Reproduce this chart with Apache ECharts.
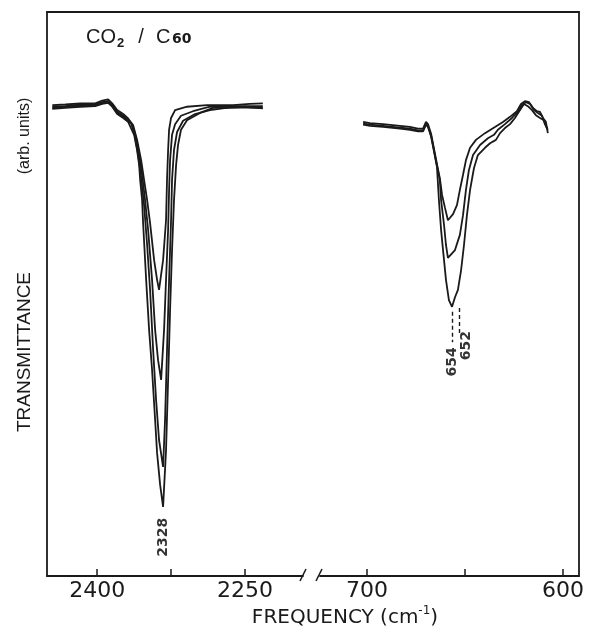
<!DOCTYPE html>
<html><head><meta charset="utf-8">
<script src="https://cdn.jsdelivr.net/npm/echarts@6/dist/echarts.min.js"></script>
<style>html,body{margin:0;padding:0;background:#fff}#c{width:591px;height:636px}</style>
</head><body><div id="c"></div>
<script>
// ---- tick values / labels (cm^-1) ----
const leftTicks = [2400, 2325, 2250];
const leftTickLabels = [2400, 2250];
const rightTicks = [700, 650, 600];
const rightTickLabels = [700, 600];

// ---- CO2 asymmetric stretch region: [frequency, transmittance (arb.)] ----
const leftA = [[2445.6,83.8],[2432.4,83.9],[2417.2,84.1],[2402.0,84.1],[2394.9,84.6],[2388.9,84.8],[2384.8,84.1],[2379.7,82.9],[2373.6,82.2],[2368.6,81.4],
  [2363.5,80.2],[2359.5,77.6],[2355.4,74.0],[2352.4,70.5],[2349.3,66.9],[2346.3,62.8],[2342.2,56.2],[2339.2,52.7],[2337.2,50.9],
  [2333.1,56.2],[2330.1,63.3],[2329.1,70.5],[2328.0,75.8],[2327.0,79.4],[2325.0,81.5],[2320.9,82.9],[2308.8,83.5],[2288.5,83.8],[2262.2,83.8],[2244.9,84.0],[2231.8,84.1]];
const leftB = [[2445.6,83.5],[2432.4,83.6],[2417.2,83.9],[2402.0,83.9],[2394.9,84.3],[2388.9,84.5],[2384.8,83.8],[2379.7,82.6],[2373.6,81.9],[2368.6,81.0],
  [2364.5,80.4],[2360.5,77.9],[2357.4,74.9],[2354.4,71.4],[2351.4,66.9],[2348.3,61.6],[2344.3,52.7],[2341.2,43.8],[2338.2,38.4],[2335.1,34.9],
  [2332.1,43.8],[2330.1,52.7],[2328.0,61.6],[2327.0,68.7],[2326.0,74.0],[2324.0,78.5],[2320.9,80.4],[2314.9,81.9],[2302.7,82.7],[2285.5,83.5],[2265.2,83.6],[2231.8,83.6]];
const leftC = [[2445.6,83.3],[2432.4,83.5],[2417.2,83.7],[2402.0,83.8],[2394.9,84.2],[2388.9,84.4],[2384.8,83.7],[2379.7,82.4],[2373.6,81.7],[2368.6,80.9],
  [2365.5,80.6],[2361.5,78.1],[2358.4,74.9],[2355.4,70.9],[2352.4,66.0],[2349.3,58.9],[2346.3,50.9],[2343.2,40.2],[2340.2,31.3],[2337.2,24.2],[2333.1,19.4],
  [2331.1,27.8],[2329.1,40.2],[2327.0,52.7],[2325.0,63.3],[2324.0,70.5],[2322.0,75.8],[2318.9,79.0],[2312.8,81.0],[2300.7,82.2],[2285.5,82.9],[2265.2,83.4],[2231.8,83.3]];
const leftD = [[2445.6,83.1],[2432.4,83.3],[2417.2,83.5],[2402.0,83.6],[2394.9,84.0],[2388.9,84.2],[2384.8,83.5],[2379.7,82.2],[2373.6,81.5],[2368.6,80.8],
  [2366.6,80.6],[2362.5,78.5],[2359.5,75.8],[2357.4,73.1],[2356.4,70.5],[2354.4,66.9],[2353.4,62.8],[2350.3,52.7],[2347.3,43.8],[2344.3,36.7],[2341.2,27.8],[2339.2,21.9],[2336.1,16.2],[2333.1,12.3],
  [2330.1,22.4],[2328.0,34.9],[2326.0,47.3],[2324.0,58.0],[2322.0,66.9],[2319.9,73.1],[2317.9,76.7],[2314.9,79.4],[2308.8,81.1],[2295.6,82.4],[2282.4,83.3],[2268.2,83.3],[2250.0,83.5],[2231.8,83.2]];

// ---- CO2 bending region ----
const rightA = [[702.0,80.8],[698.5,80.6],[691.8,80.4],[683.2,80.1],[678.1,79.9],[674.0,79.6],[671.4,79.6],[669.9,80.8],[668.9,80.4],[667.3,78.7],[665.8,76.0],[664.3,73.3],[662.8,70.7],
  [661.7,67.8],[660.2,65.5],[658.7,63.3],[656.1,64.4],[654.1,66.0],[652.6,68.7],[651.0,71.4],[649.5,74.0],[647.4,76.2],[644.4,77.6],[639.8,78.8],[634.7,79.9],[630.6,80.8],[627.0,81.7],[623.5,82.7],[621.4,84.0],[619.4,84.5],[617.3,84.3],[615.3,83.3],[613.3,82.7],[611.7,82.6],[610.2,81.5],[608.7,80.8],[607.7,78.8]];
const rightB = [[702.0,80.5],[698.5,80.3],[691.8,80.1],[683.2,79.8],[678.1,79.6],[674.0,79.3],[671.4,79.3],[669.9,80.5],[668.9,80.1],[667.3,78.4],[665.8,75.7],[664.3,73.0],[662.8,70.4],
  [662.2,66.9],[660.7,62.5],[659.7,58.9],[658.7,56.6],[655.1,58.0],[652.6,60.7],[651.0,64.2],[649.5,68.7],[648.0,72.2],[645.9,74.9],[642.3,76.7],[638.3,77.9],[635.2,78.5],[633.2,79.4],[629.6,80.4],[626.0,81.5],[623.0,82.6],[620.9,83.8],[618.9,84.3],[616.8,84.0],[614.8,82.9],[612.8,82.4],[610.7,81.9],[609.2,80.4],[607.7,79.4]];
const rightC = [[702.0,80.3],[698.5,80.1],[691.8,79.9],[683.2,79.6],[678.1,79.4],[674.0,79.1],[671.4,79.1],[669.9,80.3],[668.9,79.9],[667.3,78.2],[665.8,75.5],[664.3,72.8],
  [663.3,66.9],[662.2,61.6],[661.2,58.0],[659.7,52.7],[658.2,49.1],[656.6,47.9],[655.1,49.6],[653.6,50.9],[652.0,54.4],[650.5,58.9],[649.0,64.2],[647.4,68.7],[645.4,72.6],[643.4,74.9],[639.8,76.2],[637.2,77.0],[634.2,77.6],[632.1,78.8],[629.6,79.7],[627.0,80.4],[624.5,81.5],[621.9,82.9],[619.9,84.0],[617.9,83.6],[615.8,82.9],[613.8,82.0],[611.7,81.5],[609.7,81.1],[608.2,79.7]];

// ---- peak annotations ----
const leftPeakLabels = [{ name: '2328', value: [2333.1, 6.9] }];
const rightPeakLabels = [{ name: '654', value: [656.6, 38.1] }, { name: '652', value: [649.5, 41.0] }];
const rightPeakMarks = [[656.6, 47.0, 41.6], [653.1, 47.7, 43.2]];

const INK = '#1a1a1a';
const chart = echarts.init(document.getElementById('c'));

function curve(data, idx) {
  return { type: 'line', xAxisIndex: idx, yAxisIndex: idx, data: data, symbol: 'none', showSymbol: false,
    lineStyle: { color: INK, width: 1.8 }, silent: true, z: 3 };
}
function labels(data, idx) {
  return { type: 'scatter', xAxisIndex: idx, yAxisIndex: idx, data: data, symbolSize: 0, silent: true,
    itemStyle: { color: INK },
    label: { show: true, position: 'inside', rotate: 90, formatter: p => p.name, color: '#000',
      fontFamily: 'DejaVu Sans', fontWeight: 'bold', fontSize: 14 } };
}
const axLine = { show: true, onZero: false, lineStyle: { color: INK, width: 1.8 } };
const xLab = { color: INK, fontFamily: 'DejaVu Sans', fontSize: 22, margin: 4, formatter: v => String(v) };

const rc = curve(rightC, 1);
rc.markLine = { symbol: 'none', silent: true, label: { show: false },
  lineStyle: { color: INK, width: 1.4, type: [4, 3] },
  data: rightPeakMarks.map(m => [{ coord: [m[0], m[1]] }, { coord: [m[0], m[2]] }]) };

const option = {
  backgroundColor: '#ffffff',
  animation: false,
  grid: [
    { left: 47, width: 256, top: 14, bottom: 60 },
    { left: 320, right: 12, top: 14, bottom: 60 },
    { left: 47, right: 12, top: 12, bottom: 60 }
  ],
  xAxis: [
    { gridIndex: 0, type: 'value', inverse: true, min: 2191, max: 2451, axisLine: axLine,
      axisTick: { show: true, inside: true, length: 7, customValues: leftTicks, lineStyle: { color: INK, width: 1.5 } },
      axisLabel: Object.assign({ customValues: leftTickLabels }, xLab), splitLine: { show: false } },
    { gridIndex: 1, type: 'value', inverse: true, min: 591.8, max: 724, axisLine: axLine,
      axisTick: { show: true, inside: true, length: 7, customValues: rightTicks, lineStyle: { color: INK, width: 1.5 } },
      axisLabel: Object.assign({ customValues: rightTickLabels }, xLab), splitLine: { show: false } },
    { gridIndex: 2, type: 'value', min: 0, max: 1, position: 'top', axisLine: axLine,
      axisTick: { show: false }, axisLabel: { show: false }, splitLine: { show: false } }
  ],
  yAxis: [
    { gridIndex: 0, type: 'value', min: 0, max: 100, show: false },
    { gridIndex: 1, type: 'value', min: 0, max: 100, show: false },
    { gridIndex: 2, type: 'value', min: 0, max: 1, position: 'left', axisLine: axLine,
      axisTick: { show: false }, axisLabel: { show: false }, splitLine: { show: false } },
    { gridIndex: 2, type: 'value', min: 0, max: 1, position: 'right', axisLine: axLine,
      axisTick: { show: false }, axisLabel: { show: false }, splitLine: { show: false } }
  ],
  series: [
    curve(leftA, 0), curve(leftB, 0), curve(leftC, 0), curve(leftD, 0),
    curve(rightA, 1), curve(rightB, 1), rc,
    labels(leftPeakLabels, 0), labels(rightPeakLabels, 1)
  ],
  graphic: [
    { type: 'text', x: 25, y: 136, rotation: Math.PI / 2,
      style: { text: '(arb. units)', font: '16px "Liberation Sans"', fill: INK, textAlign: 'center', textVerticalAlign: 'middle', align: 'center', verticalAlign: 'middle' } },
    { type: 'text', x: 25, y: 352, rotation: Math.PI / 2,
      style: { text: 'TRANSMITTANCE', font: '19px "Liberation Sans"', fill: INK, textAlign: 'center', textVerticalAlign: 'middle', align: 'center', verticalAlign: 'middle' } },
    { type: 'text', x: 345, y: 618,
      style: { text: '{a|FREQUENCY (cm}{s|-1}{a|)}', fill: INK, textAlign: 'center', textVerticalAlign: 'middle', align: 'center', verticalAlign: 'middle',
        rich: { a: { fontFamily: 'DejaVu Sans', fontSize: 20, lineHeight: 26, color: INK },
                s: { fontFamily: 'DejaVu Sans', fontSize: 12, lineHeight: 26, verticalAlign: 'top', color: INK } } } },
    { type: 'text', x: 86, y: 47, style: { text: 'CO', font: '20px "Liberation Sans"', fill: INK, textAlign: 'left', textVerticalAlign: 'bottom', align: 'left', verticalAlign: 'bottom' } },
    { type: 'text', x: 117, y: 50, style: { text: '2', font: 'bold 13px "Liberation Sans"', fill: INK, textAlign: 'left', textVerticalAlign: 'bottom', align: 'left', verticalAlign: 'bottom' } },
    { type: 'text', x: 141, y: 47, style: { text: '/', font: '20px "Liberation Sans"', fill: INK, textAlign: 'center', textVerticalAlign: 'bottom', align: 'center', verticalAlign: 'bottom' } },
    { type: 'text', x: 156, y: 47, style: { text: 'C', font: '20px "Liberation Sans"', fill: INK, textAlign: 'left', textVerticalAlign: 'bottom', align: 'left', verticalAlign: 'bottom' } },
    { type: 'text', x: 172, y: 46, style: { text: '60', font: 'bold 14px "DejaVu Sans"', fill: INK, textAlign: 'left', textVerticalAlign: 'bottom', align: 'left', verticalAlign: 'bottom' } },
    { type: 'line', shape: { x1: 300, y1: 581, x2: 306, y2: 569 }, style: { stroke: INK, lineWidth: 1.6 } },
    { type: 'line', shape: { x1: 316, y1: 581, x2: 322, y2: 569 }, style: { stroke: INK, lineWidth: 1.6 } }
  ]
};
chart.setOption(option);
</script>
</body></html>
